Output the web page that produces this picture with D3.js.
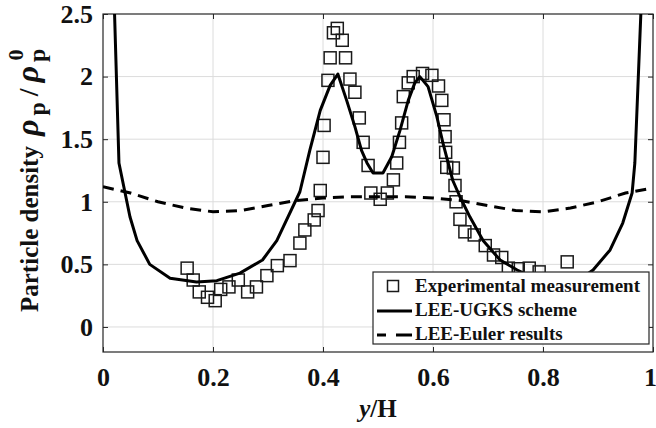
<!DOCTYPE html>
<html>
<head>
<meta charset="utf-8">
<script src="https://cdn.jsdelivr.net/npm/d3@7"></script>
<style>
  body { margin: 0; background: #fff; }
  svg { display: block; }
  text { font-family: 'Liberation Serif', 'Times New Roman', serif; font-weight: bold; fill: #111; }
</style>
</head>
<body>
<div id="chart"></div>
<script>
// experimental measurement (squares)
const expX = [0.153, 0.164, 0.175, 0.19, 0.204, 0.214, 0.229, 0.246, 0.263, 0.279, 0.298, 0.317, 0.34, 0.358,
  0.367, 0.384, 0.391, 0.395, 0.40, 0.402, 0.409, 0.413, 0.419, 0.426, 0.435, 0.441, 0.449, 0.458, 0.466,
  0.473, 0.482, 0.487, 0.504, 0.517, 0.528, 0.534, 0.539, 0.543, 0.546, 0.555, 0.564, 0.581, 0.598, 0.61,
  0.616, 0.62, 0.622, 0.623, 0.625, 0.637, 0.64, 0.642, 0.649, 0.658, 0.675, 0.695, 0.71, 0.725, 0.737,
  0.755, 0.775, 0.793, 0.844];
const expY = [0.47, 0.375, 0.28, 0.237, 0.21, 0.30, 0.32, 0.375, 0.28, 0.32, 0.41, 0.49, 0.53, 0.67,
  0.775, 0.855, 0.93, 1.09, 1.355, 1.61, 1.97, 2.15, 2.35, 2.385, 2.29, 2.15, 1.98, 1.875, 1.67,
  1.475, 1.29, 1.07, 1.02, 1.07, 1.175, 1.31, 1.475, 1.63, 1.84, 1.95, 2.0, 2.025, 2.01, 1.925,
  1.81, 1.655, 1.52, 1.395, 1.275, 1.27, 1.13, 1.0, 0.86, 0.76, 0.735, 0.65, 0.575, 0.555, 0.47,
  0.465, 0.47, 0.44, 0.52];

// LEE-UGKS scheme (solid)
const ugksX = [0.018, 0.029, 0.049, 0.062, 0.085, 0.122, 0.17, 0.207, 0.249, 0.29, 0.316, 0.358, 0.376, 0.395,
  0.413, 0.427, 0.443, 0.458, 0.47, 0.48, 0.491, 0.509, 0.525, 0.54, 0.555, 0.567, 0.576, 0.591, 0.607,
  0.618, 0.636, 0.649, 0.667, 0.691, 0.722, 0.753, 0.79, 0.83, 0.87, 0.891, 0.922, 0.945, 0.962, 0.967, 0.982];
const ugksY = [2.95, 1.31, 0.88, 0.69, 0.50, 0.39, 0.36, 0.37, 0.43, 0.535, 0.69, 1.08, 1.41, 1.73,
  1.93, 2.02, 1.81, 1.60, 1.41, 1.31, 1.23, 1.23, 1.36, 1.57, 1.81, 1.95, 2.0, 1.92, 1.68,
  1.47, 1.17, 1.04, 0.88, 0.69, 0.535, 0.455, 0.38, 0.36, 0.39, 0.455, 0.615, 0.83, 1.07, 1.31, 2.95];

// LEE-Euler results (dashed)
const eulerX = [0, 0.05, 0.1, 0.15, 0.2, 0.25, 0.3, 0.35, 0.4, 0.45, 0.5, 0.55, 0.6, 0.65, 0.7, 0.75, 0.8, 0.85, 0.9, 0.95, 1.0];
const eulerY = [1.12, 1.07, 1.0, 0.95, 0.92, 0.93, 0.97, 1.01, 1.03, 1.04, 1.04, 1.04, 1.03, 1.01, 0.97, 0.93, 0.92, 0.95, 1.0, 1.07, 1.11];

const xTicks = [0, 0.2, 0.4, 0.6, 0.8, 1];
const yTicks = [0, 0.5, 1, 1.5, 2, 2.5];
const legendLabels = ['Experimental measurement', 'LEE-UGKS scheme', 'LEE-Euler results'];

const MARGIN = { TOP: 14, BOTTOM: 76, LEFT: 103, RIGHT: 3 };
const WIDTH = 656 - MARGIN.LEFT - MARGIN.RIGHT;
const HEIGHT = 428 - MARGIN.TOP - MARGIN.BOTTOM;
const AXIS_COLOR = '#262626';

const root = d3.select('#chart')
  .append('svg')
  .attr('width', 656)
  .attr('height', 428);

const svg = root.append('g')
  .attr('transform', `translate(${MARGIN.LEFT},${MARGIN.TOP})`);

const x = d3.scaleLinear().domain([0, 1]).range([0, WIDTH]);
const y = d3.scaleLinear().domain([-0.2, 2.5]).range([HEIGHT, 0]);

svg.append('defs').append('clipPath').attr('id', 'plotClip')
  .append('rect').attr('width', WIDTH).attr('height', HEIGHT);

// grid
svg.append('g').selectAll('line').data(xTicks.slice(1, -1)).enter().append('line')
  .attr('x1', d => x(d)).attr('x2', d => x(d))
  .attr('y1', 0).attr('y2', HEIGHT)
  .attr('stroke', '#dcdcdc').attr('stroke-width', 1);
svg.append('g').selectAll('line').data(yTicks.slice(0, -1)).enter().append('line')
  .attr('x1', 0).attr('x2', WIDTH)
  .attr('y1', d => y(d)).attr('y2', d => y(d))
  .attr('stroke', '#dcdcdc').attr('stroke-width', 1);

// axes
const fmt = d => d3.format('~g')(d);
const xAxis = svg.append('g').attr('transform', `translate(0,${HEIGHT})`)
  .call(d3.axisBottom(x).tickValues(xTicks).tickFormat(fmt).tickSize(-5).tickPadding(16));
const yAxis = svg.append('g')
  .call(d3.axisLeft(y).tickValues(yTicks).tickFormat(fmt).tickSize(-5).tickPadding(10));
const xTop = svg.append('g')
  .call(d3.axisTop(x).tickValues(xTicks).tickFormat('').tickSize(-5));
const yRight = svg.append('g').attr('transform', `translate(${WIDTH},0)`)
  .call(d3.axisRight(y).tickValues(yTicks).tickFormat('').tickSize(-5));

[xAxis, yAxis, xTop, yRight].forEach(g => {
  g.select('.domain').remove();
  g.selectAll('line').attr('stroke', AXIS_COLOR);
  g.selectAll('text')
    .attr('font-family', "'Liberation Serif', serif")
    .attr('font-weight', 'bold')
    .attr('font-size', 26)
    .attr('fill', '#111');
});
// last label sits at the window edge, nudge it in a bit
xAxis.selectAll('.tick text').filter(d => d === 1).attr('dx', -3);

svg.append('rect')
  .attr('width', WIDTH).attr('height', HEIGHT)
  .attr('fill', 'none').attr('stroke', AXIS_COLOR).attr('stroke-width', 1.2);

// data
const plot = svg.append('g').attr('clip-path', 'url(#plotClip)');

const expData = expX.map((d, i) => ({ x: d, y: expY[i] }));
const ugksData = ugksX.map((d, i) => ({ x: d, y: ugksY[i] }));
const eulerData = eulerX.map((d, i) => ({ x: d, y: eulerY[i] }));

const line = d3.line().x(d => x(d.x)).y(d => y(d.y));

const SQ = 12;
plot.selectAll('rect.exp').data(expData).enter().append('rect')
  .attr('class', 'exp')
  .attr('x', d => x(d.x) - SQ / 2)
  .attr('y', d => y(d.y) - SQ / 2)
  .attr('width', SQ).attr('height', SQ)
  .attr('fill', 'none').attr('stroke', '#1a1a1a').attr('stroke-width', 1.5);

plot.append('path').datum(ugksData)
  .attr('d', line)
  .attr('fill', 'none').attr('stroke', '#000').attr('stroke-width', 3)
  .attr('stroke-linejoin', 'round');

plot.append('path').datum(eulerData)
  .attr('d', line)
  .attr('fill', 'none').attr('stroke', '#000').attr('stroke-width', 3)
  .attr('stroke-dasharray', '11,7');

// legend
const legend = svg.append('g').attr('transform', `translate(${WIDTH - 280},${HEIGHT - 80})`);
legend.append('rect')
  .attr('width', 276).attr('height', 72)
  .attr('fill', '#fff').attr('stroke', AXIS_COLOR).attr('stroke-width', 1.2);

const rows = legend.selectAll('g.row').data(legendLabels).enter().append('g')
  .attr('class', 'row')
  .attr('transform', (d, i) => `translate(0,${14 + i * 24})`);

rows.append('text')
  .attr('x', 42).attr('y', 6)
  .attr('font-size', 19)
  .text(d => d);

rows.filter((d, i) => i === 0).append('rect')
  .attr('x', 20 - 5.5).attr('y', -5.5).attr('width', 11).attr('height', 11)
  .attr('fill', 'none').attr('stroke', '#1a1a1a').attr('stroke-width', 1.5);
rows.filter((d, i) => i === 1).append('line')
  .attr('x1', 4).attr('x2', 39).attr('y1', 1).attr('y2', 1)
  .attr('stroke', '#000').attr('stroke-width', 3);
rows.filter((d, i) => i === 2).append('line')
  .attr('x1', 4).attr('x2', 39).attr('y1', 1).attr('y2', 1)
  .attr('stroke', '#000').attr('stroke-width', 3).attr('stroke-dasharray', '9,10,20');

// axis labels
root.append('text')
  .attr('x', MARGIN.LEFT + WIDTH / 2)
  .attr('y', 417)
  .attr('text-anchor', 'middle')
  .attr('font-size', 25)
  .call(t => {
    t.append('tspan').attr('font-style', 'italic').text('y');
    t.append('tspan').text('/H');
  });

const yLabel = root.append('text')
  .attr('transform', 'translate(38,312) rotate(-90)')
  .attr('font-size', 25);
yLabel.append('tspan').text('Particle density');
yLabel.append('tspan').attr('font-style', 'italic').attr('font-size', 32).attr('dx', 10).text('ρ');
yLabel.append('tspan').attr('font-size', 24).attr('dx', 4).attr('dy', 7).text('p');
yLabel.append('tspan').attr('font-size', 28).attr('dx', 6).attr('dy', -7).text('/');
yLabel.append('tspan').attr('font-style', 'italic').attr('font-size', 32).attr('dx', 6).text('ρ');
yLabel.append('tspan').attr('font-size', 24).attr('dx', 4).attr('dy', 7).text('p');
yLabel.append('tspan').attr('font-size', 22).attr('dx', -12).attr('dy', -22).text('0');
</script>
</body>
</html>
